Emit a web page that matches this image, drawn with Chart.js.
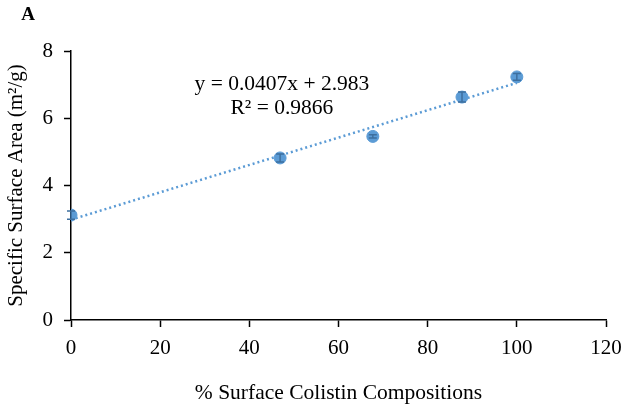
<!DOCTYPE html>
<html><head><meta charset="utf-8">
<script src="https://cdn.jsdelivr.net/npm/chart.js@4/dist/chart.umd.min.js"></script>
<style>html,body{margin:0;padding:0;background:#fff}#wrap{width:628px;height:410px;position:relative}</style>
</head><body><div id="wrap"><canvas id="c" width="628" height="410"></canvas></div>
<script>
const xValues = [0, 46.9, 67.7, 87.7, 100];
const yValues = [3.12, 4.82, 5.46, 6.63, 7.23];
const yErrors = [0.12, 0.12, 0.05, 0.15, 0.1];
const trendX = [0, 100];
const trendY = [2.983, 7.053];
const xTicks = [0, 20, 40, 60, 80, 100, 120];
const yTicks = [0, 2, 4, 6, 8];
const equationLines = ['y = 0.0407x + 2.983', 'R² = 0.9866'];
const xTitle = '% Surface Colistin Compositions';
const yTitle = 'Specific Surface Area (m²/g)';
const panelLabel = 'A';

const FONT = "'Liberation Serif', 'Times New Roman', serif";
const BLUE = '#5B9BD5';

const errPlugin = {
  id: 'errbars',
  afterDatasetsDraw(chart) {
    const ctx = chart.ctx, xs = chart.scales.x, ys = chart.scales.y;
    ctx.save();
    ctx.strokeStyle = '#3d6f9f';
    ctx.lineWidth = 1.5;
    xValues.forEach((xv, i) => {
      const px = xs.getPixelForValue(xv);
      const t = ys.getPixelForValue(yValues[i] + yErrors[i]);
      const b = ys.getPixelForValue(yValues[i] - yErrors[i]);
      ctx.beginPath();
      ctx.moveTo(px, t); ctx.lineTo(px, b);
      ctx.moveTo(px - 4, t); ctx.lineTo(px + 4, t);
      ctx.moveTo(px - 4, b); ctx.lineTo(px + 4, b);
      ctx.stroke();
    });
    ctx.fillStyle = '#000';
    ctx.font = '21.5px ' + FONT;
    ctx.textAlign = 'center';
    ctx.textBaseline = 'middle';
    const cx = xs.getPixelForValue(47.3);
    ctx.fillText(equationLines[0], cx, ys.getPixelForValue(7.0));
    ctx.fillText(equationLines[1], cx, ys.getPixelForValue(6.28));
    ctx.font = 'bold 19px ' + FONT;
    ctx.textAlign = 'center';
    ctx.fillText(panelLabel, 28, 15);
    ctx.restore();
  }
};

new Chart(document.getElementById('c'), {
  type: 'scatter',
  data: {
    datasets: [
      {
        type: 'line',
        data: trendX.map((x, i) => ({x, y: trendY[i]})),
        borderColor: BLUE,
        borderWidth: 2.5,
        borderDash: [2, 3],
        pointRadius: 0,
        fill: false
      },
      {
        data: xValues.map((x, i) => ({x, y: yValues[i]})),
        backgroundColor: BLUE,
        borderColor: BLUE,
        pointRadius: 6,
        pointStyle: 'circle'
      }
    ]
  },
  plugins: [errPlugin],
  options: {
    responsive: false,
    animation: false,
    devicePixelRatio: 1,
    layout: {padding: {left: 0, right: 22, top: 51, bottom: 0}},
    plugins: {legend: {display: false}, tooltip: {enabled: false}},
    scales: {
      x: {
        type: 'linear', min: 0, max: 120,
        afterBuildTicks: s => { s.ticks = xTicks.map(v => ({value: v})); },
        afterFit: s => { s.height = 90; s.paddingRight = 0; s.paddingLeft = 0; },
        grid: {display: true, drawOnChartArea: false, drawTicks: true, tickLength: 7, tickColor: '#000', tickWidth: 1.5},
        border: {display: true, color: '#000', width: 1.5},
        ticks: {color: '#000', font: {family: FONT, size: 21}, padding: 9, maxRotation: 0},
        title: {display: true, text: xTitle, color: '#000', font: {family: FONT, size: 21.5}, padding: {top: 0, bottom: 4}}
      },
      y: {
        type: 'linear', min: 0, max: 8,
        afterBuildTicks: s => { s.ticks = yTicks.map(v => ({value: v})); },
        afterFit: s => { s.width = 71; },
        grid: {display: true, drawOnChartArea: false, drawTicks: true, tickLength: 7, tickColor: '#000', tickWidth: 1.5},
        border: {display: true, color: '#000', width: 1.5},
        ticks: {color: '#000', font: {family: FONT, size: 21}, padding: 11},
        title: {display: true, text: yTitle, color: '#000', font: {family: FONT, size: 21}, padding: {top: 4, bottom: 0}}
      }
    }
  }
});
</script></body></html>
